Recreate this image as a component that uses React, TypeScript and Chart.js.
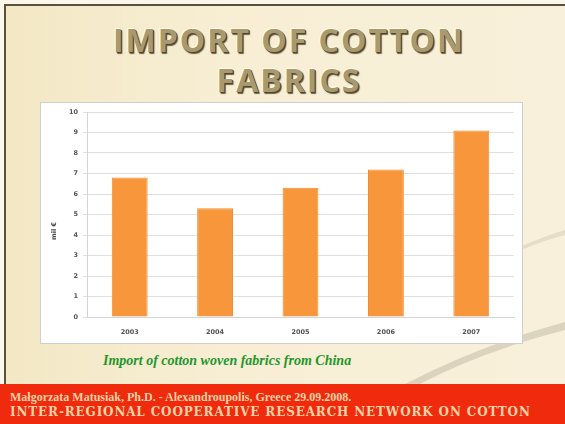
import React, { useEffect, useRef } from "react";
import { Chart, registerables } from "chart.js";

Chart.register(...registerables);

const years = ["2003", "2004", "2005", "2006", "2007"];
const importValues = [6.8, 5.3, 6.3, 7.2, 9.1];
const yAxisTitle = "mil €";
const titleLines = ["IMPORT OF COTTON", "FABRICS"];
const subtitle = "Import of cotton woven fabrics from China";
const footerLine1 = "Małgorzata Matusiak, Ph.D.  -  Alexandroupolis, Greece 29.09.2008.";
const footerLine2 = "INTER-REGIONAL COOPERATIVE RESEARCH NETWORK ON COTTON";

const yTitlePlugin = {
  id: "yTitlePlugin",
  afterDraw(chart: any) {
    const { ctx, scales } = chart;
    const y = scales.y.getPixelForValue(4.2);
    ctx.save();
    ctx.translate(13, y);
    ctx.rotate(-Math.PI / 2);
    ctx.fillStyle = "#444";
    ctx.font = "bold 6.5px 'DejaVu Sans'";
    ctx.textAlign = "center";
    ctx.textBaseline = "middle";
    ctx.fillText(yAxisTitle, 0, 0);
    ctx.restore();
  },
};

export default function App() {
  const canvasRef = useRef<HTMLCanvasElement | null>(null);

  useEffect(() => {
    document.body.style.margin = "0";
    const ctx = canvasRef.current;
    if (!ctx) return;
    const chart = new Chart(ctx, {
      type: "bar",
      data: {
        labels: years,
        datasets: [
          {
            data: importValues,
            backgroundColor: "#f7963a",
            borderColor: "#f08a2c",
            borderWidth: 1,
            barPercentage: 0.84,
            categoryPercentage: 0.5,
          },
        ],
      },
      options: {
        animation: false,
        responsive: false,
        maintainAspectRatio: false,
        layout: { padding: { left: 0, right: 8, top: 9, bottom: 0 } },
        plugins: { legend: { display: false }, tooltip: { enabled: false } },
        scales: {
          x: {
            grid: { display: false, drawTicks: false },
            border: { color: "#d4d4d4" },
            ticks: {
              color: "#555",
              font: { family: "DejaVu Sans", size: 6.5, weight: "bold" },
              padding: 11,
            },
            afterFit: (s: any) => {
              s.height = 26;
            },
          },
          y: {
            min: 0,
            max: 10,
            ticks: {
              stepSize: 1,
              color: "#555",
              font: { family: "DejaVu Sans", size: 6.5, weight: "bold" },
              padding: 5,
            },
            grid: { color: "#e0e0e0", tickLength: 4 },
            border: { color: "#d4d4d4" },
            afterFit: (s: any) => {
              s.width = 46;
            },
          },
        },
      },
      plugins: [yTitlePlugin],
    });
    return () => chart.destroy();
  }, []);

  return (
    <div
      style={{
        position: "relative",
        width: 565,
        height: 424,
        overflow: "hidden",
        background: "linear-gradient(90deg, #f3e7c4 0%, #f7eed4 40%, #f8f0da 100%)",
        fontFamily: "DejaVu Sans",
      }}
    >
      <div style={{ position: "absolute", left: 0, top: 0, width: 565, height: 4, background: "#fbf6ea" }} />
      <div style={{ position: "absolute", left: 0, top: 0, width: 4, height: 424, background: "#fbf6ea" }} />
      <div style={{ position: "absolute", left: 4, top: 4, width: 561, height: 2, background: "#5a5040" }} />
      <div style={{ position: "absolute", left: 4, top: 4, width: 2, height: 420, background: "#5a5040" }} />
      <svg width={565} height={424} style={{ position: "absolute", left: 0, top: 0 }}>
        <path d="M 405 384 Q 480 345 565 322 L 565 330 Q 480 352 420 384 Z" fill="#cfc7b2" opacity={0.7} />
        <path d="M 522 246 Q 545 236 565 230 L 565 235 Q 545 240 524 249 Z" fill="#dcd4c0" opacity={0.7} />
      </svg>
      <div
        style={{
          position: "absolute",
          left: 0,
          width: 578,
          top: 20,
          textAlign: "center",
          fontFamily: "Open Sans",
          fontWeight: 700,
          fontSize: 32,
          lineHeight: "40px",
          color: "#a8996e",
          textShadow: "1px 1px 0 #4e4430, 1.5px 1.5px 1px #6e6244, -1px -1px 0 #fffbe8",
          letterSpacing: 2,
        }}
      >
        {titleLines.map((l) => (
          <div key={l}>{l}</div>
        ))}
      </div>
      <div
        style={{
          position: "absolute",
          left: 40,
          top: 102,
          width: 483,
          height: 242,
          background: "#ffffff",
          border: "1px solid #cfcfcf",
          boxSizing: "border-box",
        }}
      >
        <canvas ref={canvasRef} width={481} height={240} style={{ display: "block" }} />
      </div>
      <div
        style={{
          position: "absolute",
          left: 103,
          top: 353,
          fontFamily: "Liberation Serif",
          fontStyle: "italic",
          fontWeight: 700,
          fontSize: 14,
          color: "#1f962c",
          whiteSpace: "nowrap",
        }}
      >
        {subtitle}
      </div>
      <div
        style={{
          position: "absolute",
          left: 0,
          top: 384,
          width: 565,
          height: 40,
          background: "#f02a0c",
        }}
      >
        <div
          style={{
            position: "absolute",
            left: 10,
            top: 6,
            fontFamily: "Liberation Serif",
            fontWeight: 700,
            fontSize: 12,
            lineHeight: "14px",
            color: "#f6d2a6",
            whiteSpace: "nowrap",
          }}
        >
          {footerLine1}
        </div>
        <div
          style={{
            position: "absolute",
            left: 10,
            top: 21,
            fontFamily: "DejaVu Serif",
            fontWeight: 700,
            fontSize: 12,
            lineHeight: "14px",
            letterSpacing: 0.85,
            color: "#f6d2a6",
            whiteSpace: "nowrap",
          }}
        >
          {footerLine2}
        </div>
      </div>
    </div>
  );
}
